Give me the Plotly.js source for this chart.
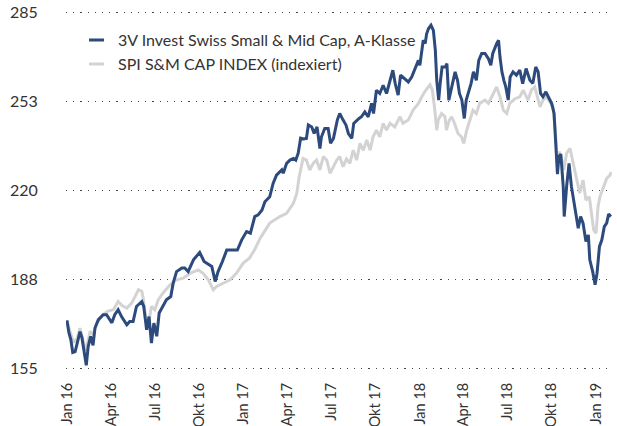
<!DOCTYPE html>
<html>
<head>
<meta charset="utf-8">
<script src="https://cdn.plot.ly/plotly-3.0.1.min.js"></script>
<style>html,body{margin:0;padding:0;background:#fff;}#chart{width:617px;height:426px;}</style>
</head>
<body>
<div id="chart"></div>
<script>
const fundName = "3V Invest Swiss Small & Mid Cap, A-Klasse";
const indexName = "SPI S&M CAP INDEX (indexiert)";

const fundDates = ["2016-01-01","2016-01-05","2016-01-09","2016-01-13","2016-01-18","2016-01-22","2016-01-28","2016-02-01","2016-02-05","2016-02-10","2016-02-14","2016-02-19","2016-02-24","2016-02-28","2016-03-06","2016-03-16","2016-03-23","2016-04-03","2016-04-09","2016-04-16","2016-04-23","2016-05-04","2016-05-10","2016-05-17","2016-05-24","2016-06-04","2016-06-08","2016-06-14","2016-06-19","2016-06-24","2016-06-29","2016-07-05","2016-07-10","2016-07-18","2016-07-25","2016-08-03","2016-08-08","2016-08-15","2016-08-26","2016-09-01","2016-09-08","2016-09-19","2016-10-02","2016-10-11","2016-10-20","2016-10-27","2016-11-03","2016-11-09","2016-11-18","2016-11-27","2016-12-10","2016-12-19","2016-12-28","2017-01-07","2017-01-15","2017-01-24","2017-01-31","2017-02-08","2017-02-14","2017-02-24","2017-03-03","2017-03-10","2017-03-21","2017-03-24","2017-03-31","2017-04-07","2017-04-14","2017-04-19","2017-04-24","2017-04-29","2017-05-05","2017-05-11","2017-05-15","2017-05-22","2017-05-27","2017-06-02","2017-06-08","2017-06-11","2017-06-18","2017-06-25","2017-06-30","2017-07-06","2017-07-14","2017-07-19","2017-07-26","2017-08-01","2017-08-06","2017-08-13","2017-08-17","2017-08-23","2017-08-28","2017-09-02","2017-09-09","2017-09-16","2017-09-23","2017-09-27","2017-10-03","2017-10-10","2017-10-17","2017-10-24","2017-10-31","2017-11-06","2017-11-11","2017-11-17","2017-11-22","2017-11-29","2017-12-08","2017-12-15","2017-12-22","2017-12-29","2018-01-01","2018-01-05","2018-01-08","2018-01-12","2018-01-15","2018-01-19","2018-01-24","2018-01-29","2018-02-02","2018-02-05","2018-02-09","2018-02-12","2018-02-16","2018-02-23","2018-02-26","2018-03-02","2018-03-09","2018-03-15","2018-03-20","2018-03-24","2018-03-29","2018-04-03","2018-04-07","2018-04-11","2018-04-17","2018-04-22","2018-04-28","2018-05-03","2018-05-09","2018-05-16","2018-05-23","2018-05-28","2018-06-01","2018-06-09","2018-06-13","2018-06-16","2018-06-20","2018-06-24","2018-06-28","2018-07-03","2018-07-07","2018-07-13","2018-07-20","2018-07-27","2018-08-02","2018-08-09","2018-08-17","2018-08-23","2018-08-29","2018-09-03","2018-09-08","2018-09-13","2018-09-19","2018-09-24","2018-10-01","2018-10-06","2018-10-10","2018-10-13","2018-10-16","2018-10-20","2018-10-25","2018-10-27","2018-11-01","2018-11-06","2018-11-11","2018-11-18","2018-11-22","2018-11-25","2018-11-30","2018-12-05","2018-12-11","2018-12-16","2018-12-19","2018-12-25","2018-12-30","2019-01-03","2019-01-08","2019-01-13","2019-01-18","2019-01-23","2019-01-27","2019-02-01"];
const fundValues = [172.6,168.1,165.6,160.9,161.2,164.5,168.5,166.3,162.0,156.2,163.1,166.8,163.5,169.8,172.9,174.7,174.7,171.7,174.7,176.5,174.0,171.0,172.2,172.2,177.7,179.5,177.7,169.2,174.0,164.3,171.6,166.8,175.3,177.7,180.1,181.3,186.2,190.4,191.7,191.7,190.4,194.7,197.4,194.1,192.9,192.3,186.8,190.4,194.1,198.3,198.3,198.3,202.0,205.0,204.4,210.5,211.1,212.9,215.9,217.7,222.6,225.6,227.5,226.3,229.9,231.1,231.7,231.1,233.6,239.1,238.8,239.0,243.9,243.2,240.8,243.2,235.3,239.5,242.6,242.6,237.2,239.0,245.7,248.1,245.7,243.9,240.8,239.0,244.5,245.7,246.3,246.9,248.7,246.9,251.8,248.1,256.6,255.4,258.4,255.4,260.2,263.9,259.0,254.8,262.1,260.9,259.6,261.4,264.5,267.5,265.7,271.8,274.8,273.6,277.2,279.1,280.3,278.4,271.2,260.2,253.0,259.0,265.1,265.1,266.3,253.0,259.0,263.3,260.2,255.4,253.0,246.3,253.0,255.5,259.0,263.3,260.2,267.5,270.0,270.0,268.1,265.7,270.0,273.6,274.8,268.7,263.3,260.2,257.8,253.0,261.4,263.3,262.1,263.9,259.0,264.5,260.2,259.1,265.1,263.3,255.4,254.2,256.0,254.2,251.8,248.1,237.2,226.0,232.4,233.3,221.4,210.5,221.4,229.9,221.4,214.1,210.5,206.2,210.5,208.1,201.4,203.8,194.7,190.4,185.6,189.8,199.5,202.0,206.8,208.1,211.4,210.5];

const indexDates = ["2016-01-01","2016-01-07","2016-01-15","2016-01-22","2016-01-28","2016-02-03","2016-02-09","2016-02-18","2016-02-24","2016-03-03","2016-03-16","2016-03-26","2016-04-06","2016-04-16","2016-04-24","2016-05-04","2016-05-14","2016-05-21","2016-05-28","2016-06-04","2016-06-07","2016-06-13","2016-06-17","2016-06-24","2016-07-01","2016-07-08","2016-07-18","2016-08-01","2016-08-15","2016-08-29","2016-09-12","2016-09-29","2016-10-09","2016-10-20","2016-10-30","2016-11-06","2016-11-20","2016-12-04","2016-12-17","2016-12-31","2017-01-13","2017-01-24","2017-02-04","2017-02-14","2017-02-24","2017-03-17","2017-03-31","2017-04-14","2017-04-21","2017-04-26","2017-05-01","2017-05-04","2017-05-11","2017-05-18","2017-05-25","2017-06-01","2017-06-08","2017-06-15","2017-06-22","2017-06-29","2017-07-06","2017-07-13","2017-07-19","2017-07-26","2017-08-02","2017-08-09","2017-08-16","2017-08-23","2017-08-30","2017-09-06","2017-09-13","2017-09-20","2017-09-26","2017-10-03","2017-10-10","2017-10-17","2017-10-24","2017-10-31","2017-11-10","2017-11-21","2017-11-27","2017-12-08","2017-12-18","2017-12-29","2018-01-05","2018-01-11","2018-01-22","2018-01-27","2018-02-01","2018-02-05","2018-02-08","2018-02-15","2018-02-22","2018-02-25","2018-03-03","2018-03-08","2018-03-15","2018-03-21","2018-03-28","2018-04-02","2018-04-08","2018-04-15","2018-04-21","2018-04-28","2018-05-05","2018-05-16","2018-05-23","2018-05-30","2018-06-09","2018-06-16","2018-06-23","2018-06-30","2018-07-06","2018-07-17","2018-07-27","2018-08-03","2018-08-13","2018-08-20","2018-08-27","2018-09-07","2018-09-13","2018-09-20","2018-09-27","2018-10-04","2018-10-09","2018-10-12","2018-10-17","2018-10-22","2018-10-26","2018-11-01","2018-11-08","2018-11-15","2018-11-22","2018-11-28","2018-12-05","2018-12-11","2018-12-18","2018-12-23","2018-12-27","2019-01-01","2019-01-05","2019-01-09","2019-01-16","2019-01-23","2019-01-30","2019-02-01"];
const indexValues = [172.6,168.6,164.5,166.0,169.8,166.0,161.5,168.6,167.5,171.6,174.7,176.0,176.5,179.5,178.0,177.1,178.9,181.3,183.8,183.2,180.7,172.9,170.5,177.7,176.5,180.1,182.6,185.5,187.4,188.0,189.8,191.0,189.8,187.4,183.8,185.0,186.2,187.4,189.8,193.5,195.3,198.5,202.5,205.5,208.1,210.5,211.7,215.3,218.9,225.0,229.9,231.7,231.1,227.5,229.9,231.1,227.5,232.4,231.1,226.3,228.7,231.1,232.4,228.7,231.5,229.9,234.7,231.1,237.2,234.7,238.4,234.7,239.6,242.0,239.6,244.5,242.0,244.5,243.2,246.9,244.5,245.7,249.3,251.8,254.2,256.0,258.6,256.6,249.3,242.0,245.7,248.1,246.9,242.0,245.7,246.9,243.9,240.8,239.6,237.2,242.0,245.7,249.3,248.1,251.8,253.0,251.8,254.2,257.8,254.2,249.3,248.1,251.8,253.5,254.2,256.6,253.0,256.6,257.8,250.5,253.0,254.2,252.3,250.5,240.8,232.4,234.2,231.1,227.5,233.6,235.4,229.9,223.8,219.0,223.8,216.5,217.7,210.5,205.6,204.4,214.1,217.7,221.4,224.4,225.6,226.8];

const xTickVals = ["2016-01-01","2016-04-01","2016-07-01","2016-10-01","2017-01-01","2017-04-01","2017-07-01","2017-10-01","2018-01-01","2018-04-01","2018-07-01","2018-10-01","2019-01-01"];
const xTickText = ["Jan 16","Apr 16","Jul 16","Okt 16","Jan 17","Apr 17","Jul 17","Okt 17","Jan 18","Apr 18","Jul 18","Okt 18","Jan 19"];
const yTickVals = [155, 187.5, 220, 252.5, 285];
const yTickText = ["155","188","220","253","285"];

const FONT = "Lato, 'Noto Sans', sans-serif";

const traces = [
  {x: indexDates, y: indexValues, type: "scatter", mode: "lines", name: indexName,
   line: {color: "#d3d3d3", width: 3}, legendrank: 2},
  {x: fundDates, y: fundValues, type: "scatter", mode: "lines", name: fundName,
   line: {color: "#2d4a7c", width: 3}, legendrank: 1}
];

const layout = {
  width: 617, height: 426,
  margin: {l: 66, r: 5, t: 11, b: 56},
  paper_bgcolor: "#fff", plot_bgcolor: "#fff",
  font: {family: FONT, size: 16, color: "#333"},
  showlegend: true,
  legend: {x: 0.022, y: 0.966, xanchor: "left", yanchor: "top",
           bgcolor: "rgba(0,0,0,0)", font: {family: FONT, size: 16, color: "#333"}},
  xaxis: {type: "date", range: ["2015-12-30", "2019-02-03"],
          tickvals: xTickVals, ticktext: xTickText, tickangle: -90,
          showgrid: false, zeroline: false, showline: false,
          ticks: "outside", ticklen: 6, tickcolor: "rgba(0,0,0,0)",
          tickfont: {family: FONT, size: 14.5, color: "#333"}},
  yaxis: {range: [154.5, 285.5], tickvals: yTickVals, ticktext: yTickText,
          showgrid: true, gridcolor: "#444", gridwidth: 1, griddash: "1.2px,6px",
          zeroline: false, showline: false,
          ticks: "outside", ticklen: 24, tickcolor: "rgba(0,0,0,0)",
          tickfont: {family: FONT, size: 16, color: "#333"}}
};

Plotly.newPlot("chart", traces, layout, {displayModeBar: false, staticPlot: true}).then(function (gd) {
  // shorten the legend line samples to match the short dash of the original
  gd.querySelectorAll(".legend .legendlines path").forEach(function (p) {
    p.setAttribute("d", "M11,0h15");
  });
});
</script>
</body>
</html>
